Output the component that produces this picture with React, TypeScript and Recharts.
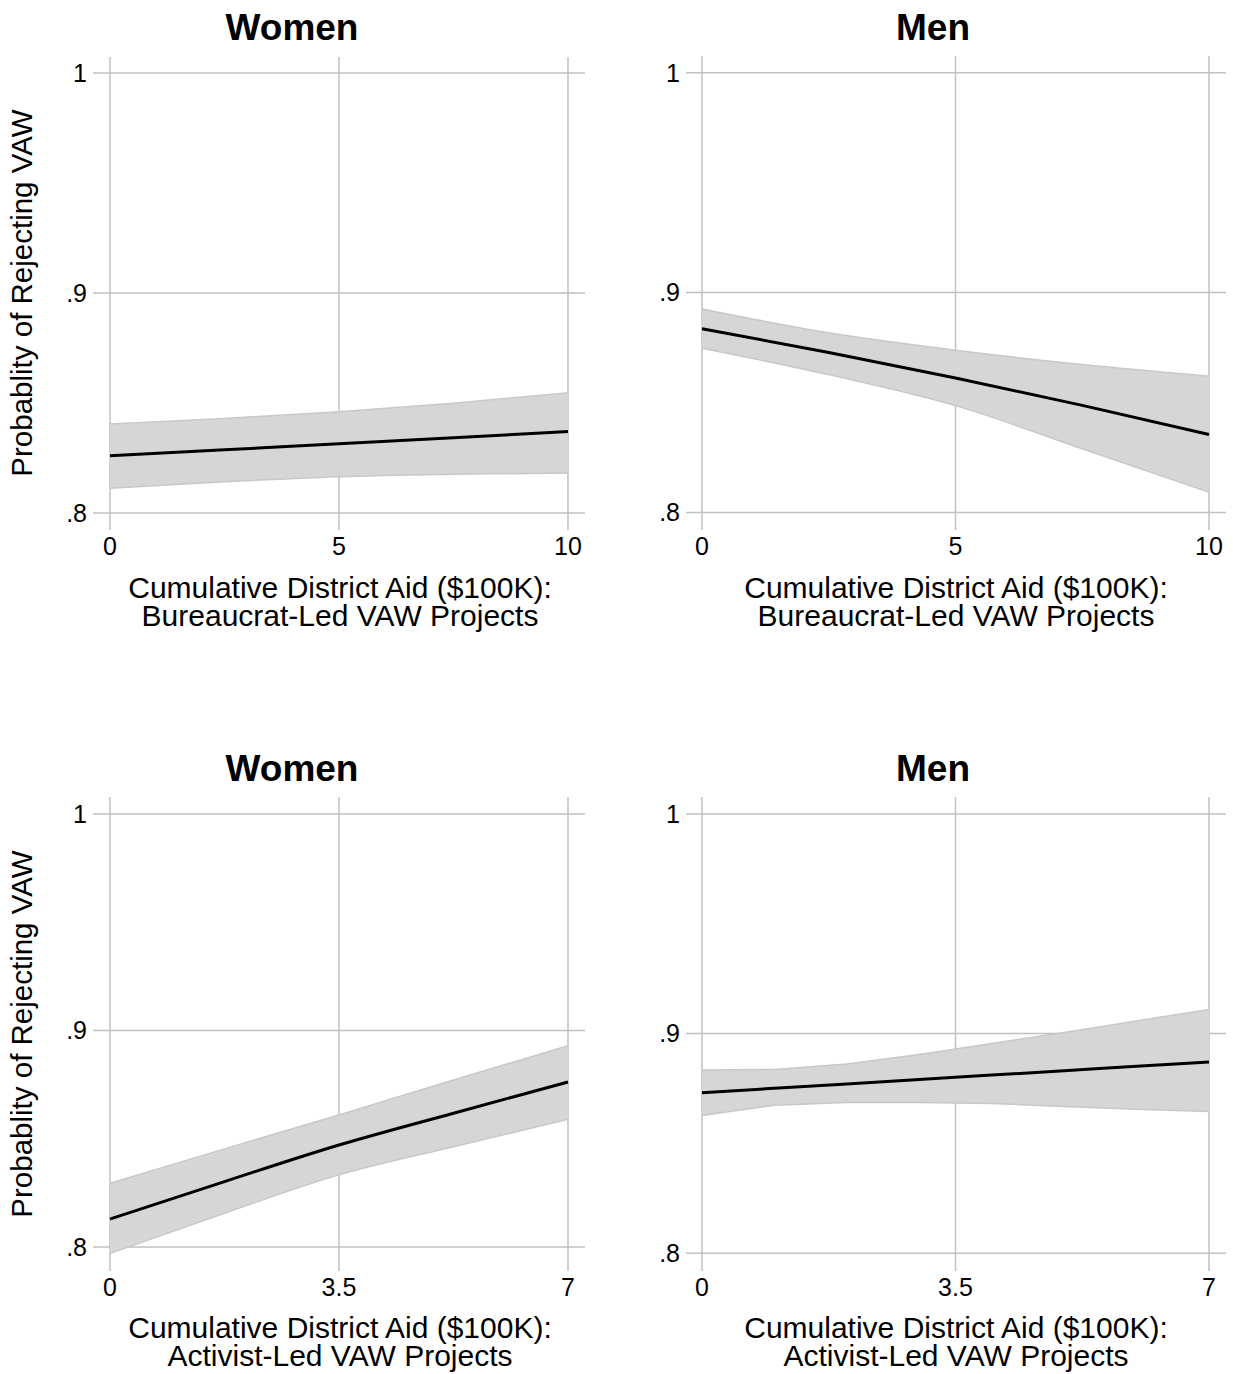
import React from 'react'
import { ComposedChart, Area, Line, XAxis, YAxis, CartesianGrid } from 'recharts'

const FONT = '"Liberation Sans", Arial, Helvetica, sans-serif'

// bureaucrat-led aid, $100K
const aidBureau = [0, 2.5, 5, 7.5, 10]
const womenBureauMean = [0.826, 0.8287, 0.8315, 0.8342, 0.837]
const womenBureauLow = [0.8112, 0.8142, 0.8165, 0.8176, 0.8182]
const womenBureauHigh = [0.8405, 0.843, 0.846, 0.8499, 0.8547]
const menBureauMean = [0.8836, 0.8728, 0.8612, 0.8487, 0.8355]
const menBureauLow = [0.8747, 0.8627, 0.8486, 0.829, 0.8092]
const menBureauHigh = [0.8926, 0.8817, 0.8738, 0.8673, 0.862]

// activist-led aid, $100K
const aidActivistW = [0, 1.75, 3.5, 5.25, 7]
const womenActMean = [0.8129, 0.8302, 0.8471, 0.8618, 0.8762]
const womenActLow = [0.797, 0.8156, 0.8333, 0.8463, 0.859]
const womenActHigh = [0.8294, 0.8453, 0.861, 0.8771, 0.893]
const aidActivistM = [0, 1, 2, 3, 4, 5, 6, 7]
const menActMean = [0.8731, 0.8751, 0.8771, 0.8791, 0.8811, 0.8831, 0.8851, 0.8871]
const menActLow = [0.8627, 0.8674, 0.8686, 0.8686, 0.8682, 0.8668, 0.8656, 0.8645]
const menActHigh = [0.8834, 0.8837, 0.8862, 0.8905, 0.8955, 0.9005, 0.9058, 0.911]

const yTicks = [0.8, 0.9, 1]
const bureauTicks = [0, 5, 10]
const activistTicks = [0, 3.5, 7]

const rows = (x: number[], mean: number[], low: number[], high: number[]) =>
  x.map((v, i) => ({ aid: v, mean: mean[i], band: [low[i], high[i]] }))

const fmtY = (v: number) => (v === 1 ? '1' : String(v).replace(/^0/, ''))

type PanelProps = {
  data: any[]
  xTicks: number[]
  xDomain: [number, number]
  yDomain: [number, number]
  left: number
  top: number
  plotW: number
  plotH: number
  curve: 'linear' | 'monotone'
}

function Panel({ data, xTicks, xDomain, yDomain, left, top, plotW, plotH, curve }: PanelProps) {
  return (
    <div style={{ position: 'absolute', left: left - 60, top: top - 5 }}>
      <ComposedChart
        width={plotW + 65}
        height={plotH + 40}
        data={data}
        margin={{ top: 5, right: 5, bottom: 0, left: 0 }}
      >
        {/* grid only at the tick values, no frame around the plot */}
        <CartesianGrid stroke="#c0c0c0" strokeWidth={1.5} syncWithTicks />
        <XAxis
          dataKey="aid"
          type="number"
          domain={xDomain}
          ticks={xTicks}
          allowDataOverflow
          axisLine={false}
          tickLine={false}
          tickSize={0}
          tickMargin={7}
          height={35}
          tick={{ fontSize: 25, fill: '#000', fontFamily: FONT }}
        />
        <YAxis
          type="number"
          domain={yDomain}
          ticks={yTicks}
          allowDataOverflow
          axisLine={false}
          tickLine={false}
          tickSize={0}
          tickMargin={6}
          width={60}
          tickFormatter={fmtY}
          tick={{ fontSize: 25, fill: '#000', fontFamily: FONT }}
        />
        <Area
          dataKey="band"
          type={curve}
          fill="#d6d6d6"
          fillOpacity={1}
          stroke="#c8c8c8"
          strokeWidth={1.5}
          isAnimationActive={false}
        />
        <Line
          dataKey="mean"
          type="monotone"
          stroke="#000"
          strokeWidth={3}
          dot={false}
          isAnimationActive={false}
        />
      </ComposedChart>
    </div>
  )
}

function Txt({ x, y, children, size, bold }: { x: number; y: number; children: React.ReactNode; size: number; bold?: boolean }) {
  return (
    <div
      style={{
        position: 'absolute',
        left: x - 300,
        top: y - size / 2,
        width: 600,
        lineHeight: `${size}px`,
        fontSize: size,
        fontWeight: bold ? 700 : 400,
        textAlign: 'center',
        whiteSpace: 'nowrap',
        color: '#000',
      }}
    >
      {children}
    </div>
  )
}

// two-line x-axis title, lines 28px apart
function XTitle({ x, y, second }: { x: number; y: number; second: string }) {
  const line = (top: number, text: string) => (
    <div
      style={{
        position: 'absolute',
        left: x - 300,
        top,
        width: 600,
        height: 28,
        lineHeight: '28px',
        fontSize: 30,
        textAlign: 'center',
        whiteSpace: 'nowrap',
      }}
    >
      {text}
    </div>
  )
  return (
    <>
      {line(y - 28, 'Cumulative District Aid ($100K):')}
      {line(y, second)}
    </>
  )
}

function YTitle({ x, y }: { x: number; y: number }) {
  return (
    <div
      style={{
        position: 'absolute',
        left: x - 250,
        top: y - 15,
        width: 500,
        height: 30,
        lineHeight: '30px',
        fontSize: 29.5,
        textAlign: 'center',
        transform: 'rotate(-90deg)',
        transformOrigin: 'center',
        whiteSpace: 'nowrap',
      }}
    >
      Probablity of Rejecting VAW
    </div>
  )
}

export default function App() {
  return (
    <div
      style={{
        position: 'absolute',
        left: 0,
        top: 0,
        width: 1233,
        height: 1374,
        background: '#fff',
        fontFamily: FONT,
        overflow: 'hidden',
      }}
    >
      <Txt x={292} y={27} size={37} bold>Women</Txt>
      <Txt x={933} y={27} size={37} bold>Men</Txt>
      <Txt x={292} y={768} size={37} bold>Women</Txt>
      <Txt x={933} y={768} size={37} bold>Men</Txt>

      <YTitle x={22} y={293} />
      <YTitle x={22} y={1034} />

      <Panel
        data={rows(aidBureau, womenBureauMean, womenBureauLow, womenBureauHigh)}
        xTicks={bureauTicks}
        xDomain={[-0.3712, 10.3712]}
        yDomain={[0.79227, 1.00727]}
        left={93}
        top={57}
        plotW={492}
        plotH={473}
        curve="monotone"
      />
      <Panel
        data={rows(aidBureau, menBureauMean, menBureauLow, menBureauHigh)}
        xTicks={bureauTicks}
        xDomain={[-0.3156, 10.3353]}
        yDomain={[0.79204, 1.0076]}
        left={686}
        top={56}
        plotW={540}
        plotH={474}
        curve="monotone"
      />
      <Panel
        data={rows(aidActivistW, womenActMean, womenActLow, womenActHigh)}
        xTicks={activistTicks}
        xDomain={[-0.2598, 7.2598]}
        yDomain={[0.7889, 1.00785]}
        left={93}
        top={797}
        plotW={492}
        plotH={474}
        curve="monotone"
      />
      <Panel
        data={rows(aidActivistM, menActMean, menActLow, menActHigh)}
        xTicks={activistTicks}
        xDomain={[-0.2209, 7.2347]}
        yDomain={[0.7919, 1.00774]}
        left={686}
        top={797}
        plotW={540}
        plotH={474}
        curve="linear"
      />

      <XTitle x={340} y={602} second="Bureaucrat-Led VAW Projects" />
      <XTitle x={956} y={602} second="Bureaucrat-Led VAW Projects" />
      <XTitle x={340} y={1342} second="Activist-Led VAW Projects" />
      <XTitle x={956} y={1342} second="Activist-Led VAW Projects" />
    </div>
  )
}
